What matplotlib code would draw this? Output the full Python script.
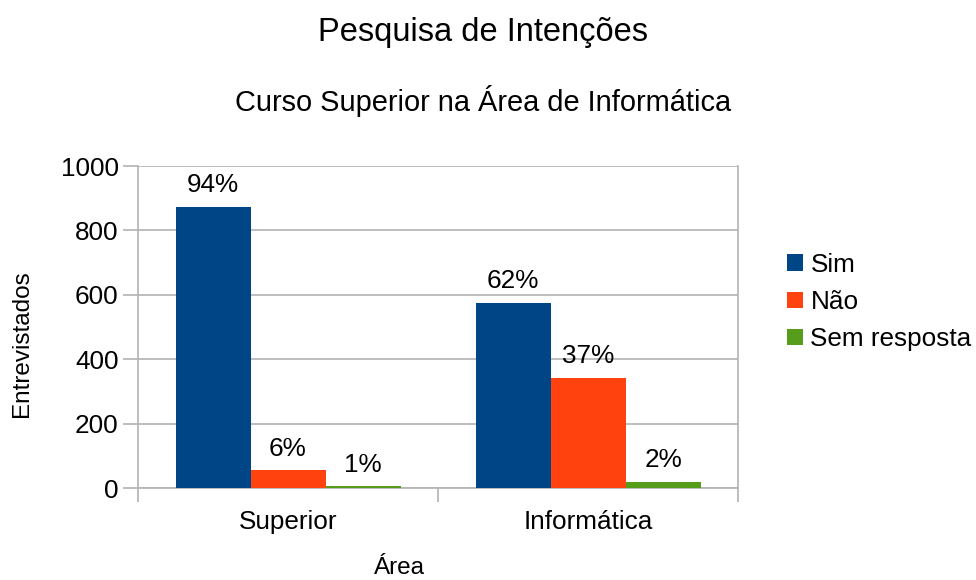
import matplotlib.pyplot as plt
import numpy as np

plt.rcParams['font.family'] = ['Liberation Sans', 'DejaVu Sans']

categories = ['Superior', 'Informática']
series_names = ['Sim', 'Não', 'Sem resposta']
values = {
    'Sim': [873, 576],
    'Não': [55, 343],
    'Sem resposta': [5, 18],
}
pct_labels = {
    'Sim': ['94%', '62%'],
    'Não': ['6%', '37%'],
    'Sem resposta': ['1%', '2%'],
}
colors = {'Sim': '#004586', 'Não': '#ff420e', 'Sem resposta': '#579d1c'}
yticks = [0, 200, 400, 600, 800, 1000]

GRID = '#b3b3b3'
FS = 18.8

fig = plt.figure(figsize=(9.76, 5.8), dpi=100)
ax = fig.add_axes([138 / 976, 92 / 580, 600 / 976, 322 / 580])

x = np.arange(len(categories)) + 0.5
width = 0.25
for i, name in enumerate(series_names):
    bars = ax.bar(x + (i - 1) * width, values[name], width, color=colors[name],
                  label=name, zorder=3)
    ax.bar_label(bars, labels=pct_labels[name], padding=7, fontsize=FS)

ax.set_xlim(0, 2)
ax.set_ylim(0, 1000)
ax.set_yticks(yticks)
ax.set_xticks(x)
ax.set_xticklabels(categories)
ax.set_xticks([0, 1, 2], minor=True)

ax.grid(axis='y', color=GRID, linewidth=1.2, zorder=0)
ax.tick_params(axis='y', length=11, width=1.2, color=GRID, pad=3, labelsize=FS)
ax.tick_params(axis='x', which='major', length=0, pad=16, labelsize=FS)
ax.tick_params(axis='x', which='minor', length=10, width=1.2, color=GRID)

for side in ['left', 'right', 'bottom']:
    ax.spines[side].set_color(GRID)
    ax.spines[side].set_linewidth(1.2)
ax.spines['top'].set_visible(False)

ax.set_xlabel('Área', fontsize=17.5)
ax.xaxis.set_label_coords(0.436, -0.25)
ax.xaxis.label.set_va('center')
ax.set_ylabel('Entrevistados', fontsize=17.5)
ax.yaxis.set_label_coords(-0.1925, 0.447)
ax.yaxis.label.set_va('center')

fig.text(0.495, 1 - 32 / 580, 'Pesquisa de Intenções', ha='center', va='center',
         fontsize=23.5)
fig.text(0.495, 1 - 101 / 580, 'Curso Superior na Área de Informática',
         ha='center', va='center', fontsize=20.9)

fig.legend(loc='center left', bbox_to_anchor=(787 / 976, 1 - 302 / 580),
           frameon=False, fontsize=FS, borderpad=0, borderaxespad=0,
           handlelength=0.6, handleheight=0.6, handletextpad=0.3,
           labelspacing=0.5)

fig.savefig('out.png', dpi=100, facecolor='white')
